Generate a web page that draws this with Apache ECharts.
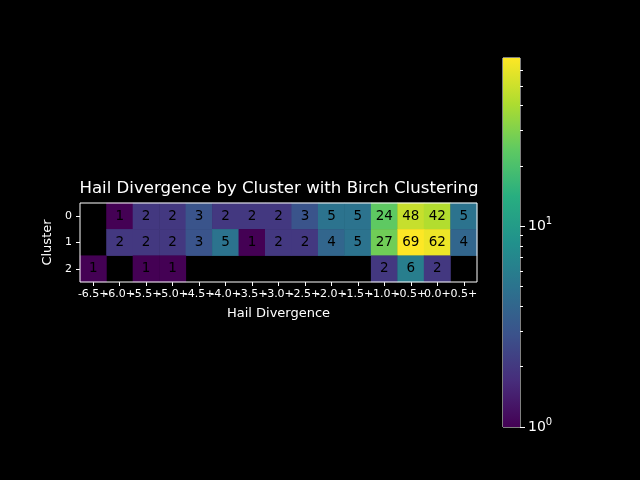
<!DOCTYPE html>
<html>
<head>
<meta charset="utf-8">
<script src="https://cdn.jsdelivr.net/npm/echarts@6/dist/echarts.min.js"></script>
<style>
  html, body { margin: 0; padding: 0; background: #000; }
  #chart { width: 640px; height: 480px; }
</style>
</head>
<body>
<div id="chart"></div>
<script>
var divergenceLabels = ['-6.5+', '-6.0+', '-5.5+', '-5.0+', '-4.5+', '-4.0+', '-3.5+', '-3.0+',
    '-2.5+', '-2.0+', '-1.5+', '-1.0+', '-0.5+', '0.0+', '0.5+'];
var clusterLabels = ['0', '1', '2'];
// counts per cluster, null = no hail in that bin
var cluster0 = [null, 1, 2, 2, 3, 2, 2, 2, 3, 5, 5, 24, 48, 42, 5];
var cluster1 = [null, 2, 2, 2, 3, 5, 1, 2, 2, 4, 5, 27, 69, 62, 4];
var cluster2 = [1, null, 1, 1, null, null, null, null, null, null, null, 2, 6, 2, null];
var colorbarMax = 69;
var majorTicks = [1, 10];
var minorTicks = [2, 3, 4, 5, 6, 7, 8, 9, 20, 30, 40, 50, 60];

var viridis = ['#440154', '#472d7b', '#3b528b', '#2c728e', '#21918c', '#28ae80', '#5ec962', '#addc30', '#fde725'];
var logMax = Math.log10(colorbarMax);

var cells = [];
[cluster0, cluster1, cluster2].forEach(function (row, r) {
    row.forEach(function (v, c) {
        if (v !== null) cells.push([c, r, Math.log10(v), v]);
    });
});

var myChart = echarts.init(document.getElementById('chart'));
var option = {
    backgroundColor: '#000',
    animation: false,
    textStyle: { fontFamily: 'DejaVu Sans', color: '#fff' },
    title: {
        text: 'Hail Divergence by Cluster with Birch Clustering',
        left: 274,
        textAlign: 'center',
        top: 175,
        textStyle: { color: '#fff', fontSize: 16.6, fontWeight: 'normal', fontFamily: 'DejaVu Sans' }
    },
    grid: [
        { left: 80, top: 203, width: 397, height: 79, show: true, borderColor: '#fff', borderWidth: 1, backgroundColor: 'transparent', z: 10 },
        { left: 503, top: 58, width: 17, height: 369, show: true, borderColor: '#fff', borderWidth: 1 }
    ],
    visualMap: {
        show: false,
        type: 'continuous',
        seriesIndex: 0,
        dimension: 2,
        min: 0,
        max: logMax,
        inRange: { color: viridis }
    },
    xAxis: [
        {
            type: 'category', gridIndex: 0, data: divergenceLabels,
            name: 'Hail Divergence', nameLocation: 'middle', nameGap: 25,
            nameTextStyle: { color: '#fff', fontSize: 13 },
            axisLine: { show: false },
            axisTick: { show: true, alignWithLabel: true, length: 4, lineStyle: { color: '#fff' } },
            axisLabel: { interval: 0, color: '#fff', fontSize: 11, margin: 7 },
            splitLine: { show: false }
        },
        {
            type: 'category', gridIndex: 1, data: [''],
            axisLine: { show: false }, axisTick: { show: false }, axisLabel: { show: false }
        }
    ],
    yAxis: [
        {
            type: 'category', gridIndex: 0, data: clusterLabels, inverse: true,
            name: 'Cluster', nameLocation: 'middle', nameGap: 24,
            nameTextStyle: { color: '#fff', fontSize: 13 },
            axisLine: { show: false },
            axisTick: { show: true, alignWithLabel: true, length: 4, lineStyle: { color: '#fff' } },
            axisLabel: { color: '#fff', fontSize: 11, margin: 8 },
            splitLine: { show: false }
        },
        {
            type: 'value', gridIndex: 1, position: 'right', min: 0, max: logMax,
            axisLine: { show: false },
            splitLine: { show: false },
            axisTick: { show: true, length: 5, lineStyle: { color: '#fff' }, customValues: majorTicks.map(Math.log10) },
            axisLabel: {
                color: '#fff', margin: 8,
                customValues: majorTicks.map(Math.log10),
                formatter: function (v) { return '{b|10}{s|' + Math.round(v) + '}'; },
                rich: {
                    b: { fontSize: 14, color: '#fff' },
                    s: { fontSize: 10, color: '#fff', verticalAlign: 'top', padding: [0, 0, 9, 0] }
                }
            }
        },
        {
            type: 'value', gridIndex: 1, position: 'right', min: 0, max: logMax,
            axisLine: { show: false },
            splitLine: { show: false },
            axisTick: { show: true, length: 3, lineStyle: { color: '#fff' }, customValues: minorTicks.map(Math.log10) },
            axisLabel: { show: false, customValues: minorTicks.map(Math.log10) }
        }
    ],
    series: [
        {
            type: 'heatmap',
            xAxisIndex: 0, yAxisIndex: 0,
            data: cells,
            encode: { x: 0, y: 1 },
            label: {
                show: true, color: '#000', fontSize: 13.5,
                formatter: function (p) { return p.value[3]; }
            },
            itemStyle: { borderWidth: 0 }
        },
        {
            type: 'bar',
            xAxisIndex: 1, yAxisIndex: 1,
            data: [logMax],
            barWidth: '100%',
            silent: true,
            itemStyle: {
                color: new echarts.graphic.LinearGradient(0, 0, 0, 1,
                    viridis.slice().reverse().map(function (c, i) {
                        return { offset: i / (viridis.length - 1), color: c };
                    }))
            }
        }
    ]
};
myChart.setOption(option);
window.addEventListener('resize', function () {
    myChart.resize();
});
</script>
</body>
</html>
